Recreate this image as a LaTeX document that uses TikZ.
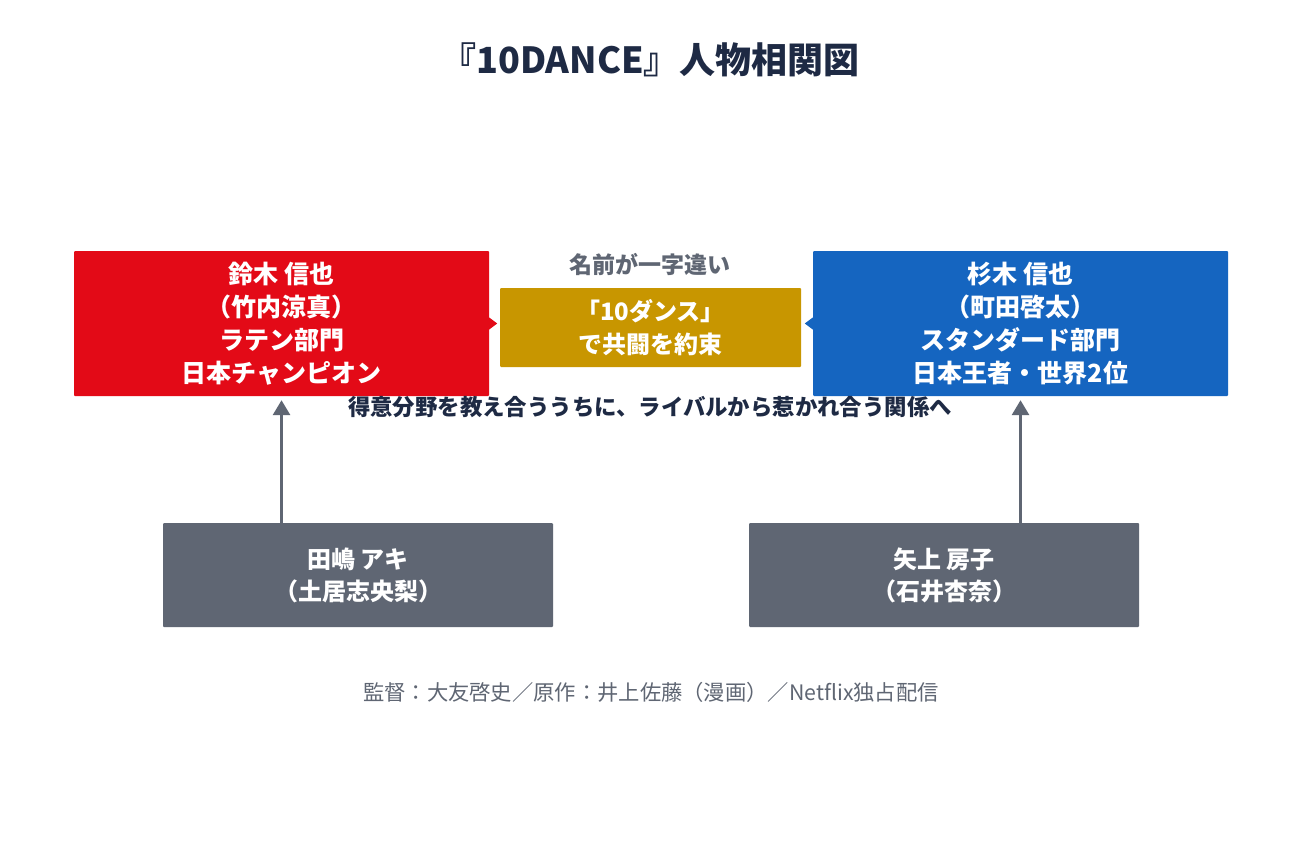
\documentclass[tikz,border=0pt]{standalone}
\usepackage{fontspec}
\setmainfont{Noto Sans CJK JP}
\usetikzlibrary{arrows.meta, positioning}
\definecolor{latinred}{HTML}{E30A17}
\definecolor{stdblue}{HTML}{1565C0}
\definecolor{promisegold}{HTML}{C89600}
\definecolor{sidegray}{HTML}{5F6673}
\definecolor{titlenavy}{HTML}{1E2A44}
\tikzset{
    dancer/.style={draw=none, rounded corners=1pt, text=white, align=center, inner sep=0pt,
        font=\bfseries\fontsize{25}{33}\selectfont, minimum width=415pt, minimum height=145pt},
    support/.style={dancer, fill=sidegray, minimum width=390pt, minimum height=104pt,
        font=\bfseries\fontsize{24}{32}\selectfont},
    promise/.style={dancer, fill=promisegold, minimum width=301pt, minimum height=79pt,
        font=\bfseries\fontsize{24}{33}\selectfont},
    pushes/.style={draw=sidegray, line width=3pt, -{Triangle[width=17pt,length=15pt]}, shorten >=4pt}
}
\begin{document}
\begin{tikzpicture}[x=1pt,y=-1pt]
    \useasboundingbox[fill=white] (0,0) rectangle (1301,854);
    \node[text=titlenavy, font=\bfseries\fontsize{36}{40}\selectfont] (title) at (650,60) {『10DANCE』人物相関図};
    % the two leads
    \node[dancer, fill=latinred] (suzuki) at (281.5,323.5) {鈴木 信也\\（竹内涼真）\\ラテン部門\\日本チャンピオン};
    \node[dancer, fill=stdblue] (sugiki) at (1020.5,323.5) {杉木 信也\\（町田啓太）\\スタンダード部門\\日本王者・世界2位};
    \node[promise] (pact) at (650.5,327.5) {「10ダンス」\\で共闘を約束};
    \fill[latinred] (suzuki.east) ++(0,-6) -- ++(8,6) -- ++(-8,6) -- cycle;
    \fill[stdblue] (sugiki.west) ++(0,-6) -- ++(-8,6) -- ++(8,6) -- cycle;
    \node[text=sidegray, font=\bfseries\fontsize{23}{26}\selectfont] (namenote) at (650,265) {名前が一字違い};
    \node[text=titlenavy, font=\bfseries\fontsize{22.4}{26}\selectfont] (bond) at (650,407) {得意分野を教え合ううちに、ライバルから惹かれ合う関係へ};
    % partners
    \node[support] (tajima) at (358,575) {田嶋 アキ\\（土居志央梨）};
    \node[support] (yagami) at (944,575) {矢上 房子\\（石井杏奈）};
    \draw[pushes] (tajima.north -| suzuki) -- (suzuki.south);
    \draw[pushes] (yagami.north -| sugiki) -- (sugiki.south);
    \node[text=sidegray, font=\fontsize{21.3}{24}\selectfont] (credits) at (651,692) {監督：大友啓史／原作：井上佐藤（漫画）／Netflix独占配信};
\end{tikzpicture}
\end{document}
